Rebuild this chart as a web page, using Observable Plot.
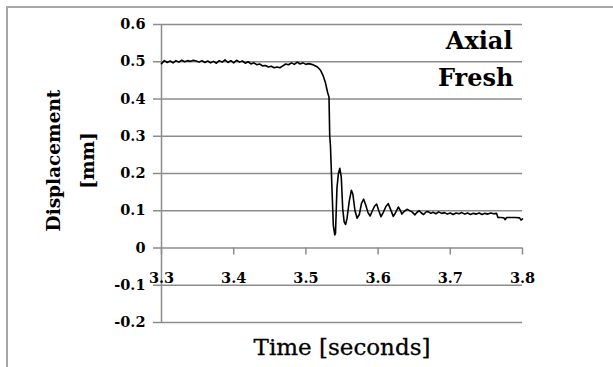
<!DOCTYPE html>
<html>
<head>
<meta charset="utf-8">
<script src="https://cdn.jsdelivr.net/npm/d3@7"></script>
<script src="https://cdn.jsdelivr.net/npm/@observablehq/plot@0.6"></script>
<style>
  html, body { margin: 0; padding: 0; background: white; }
  #wrap { position: relative; width: 613px; height: 367px; overflow: hidden; }
  #border { position: absolute; left: 6px; top: 6px; width: 620px; height: 380px;
            border-top: 2px solid #a6a6a6; border-left: 2px solid #a6a6a6; pointer-events: none; }
</style>
</head>
<body>
<div id="wrap"><div id="chart"></div><div id="border"></div></div>
<script>
// Time [seconds]
const times = [
  3.300, 3.304, 3.308, 3.312, 3.316, 3.320, 3.324, 3.328, 3.332, 3.336,
  3.340, 3.344, 3.348, 3.352, 3.356, 3.360, 3.364, 3.368, 3.372, 3.376,
  3.380, 3.384, 3.388, 3.392, 3.396, 3.400, 3.404, 3.408, 3.412, 3.416,
  3.420, 3.424, 3.428, 3.432, 3.436, 3.440, 3.444, 3.448, 3.452, 3.456,
  3.460, 3.464, 3.468, 3.472, 3.476, 3.480, 3.484, 3.488, 3.492, 3.496,
  3.500, 3.504, 3.508, 3.512, 3.516, 3.520, 3.524, 3.527, 3.530, 3.532,
  3.533, 3.534, 3.536, 3.538, 3.540, 3.541, 3.543, 3.545, 3.547, 3.549,
  3.551, 3.553, 3.555, 3.557, 3.560, 3.563, 3.565, 3.568, 3.571, 3.574,
  3.577, 3.580, 3.583, 3.586, 3.589, 3.592, 3.595, 3.598, 3.601, 3.604,
  3.607, 3.611, 3.614, 3.617, 3.621, 3.624, 3.628, 3.631, 3.633, 3.636,
  3.640, 3.643, 3.647, 3.651, 3.654, 3.657, 3.660, 3.663, 3.667, 3.670,
  3.673, 3.676, 3.680, 3.684, 3.688, 3.692, 3.696, 3.700, 3.704, 3.708,
  3.712, 3.716, 3.720, 3.724, 3.728, 3.732, 3.736, 3.740, 3.744, 3.748,
  3.752, 3.756, 3.760, 3.764, 3.766, 3.770, 3.774, 3.776, 3.778, 3.784,
  3.790, 3.796, 3.798, 3.800
];
// Displacement [mm]
const displacement = [
  0.495, 0.503, 0.498, 0.502, 0.497, 0.503, 0.499, 0.504, 0.500, 0.503,
  0.501, 0.504, 0.502, 0.499, 0.503, 0.498, 0.502, 0.497, 0.501, 0.496,
  0.503, 0.499, 0.505, 0.498, 0.503, 0.497, 0.504, 0.499, 0.502, 0.496,
  0.500, 0.494, 0.497, 0.492, 0.494, 0.489, 0.490, 0.486, 0.488, 0.484,
  0.486, 0.484, 0.489, 0.494, 0.492, 0.497, 0.493, 0.499, 0.494, 0.497,
  0.493, 0.495, 0.493, 0.490, 0.486, 0.478, 0.462, 0.444, 0.418, 0.405,
  0.300, 0.275, 0.165, 0.060, 0.035, 0.040, 0.160, 0.200, 0.214, 0.190,
  0.105, 0.070, 0.063, 0.080, 0.125, 0.155, 0.145, 0.100, 0.080, 0.090,
  0.120, 0.131, 0.115, 0.095, 0.086, 0.100, 0.112, 0.118, 0.100, 0.084,
  0.095, 0.112, 0.119, 0.105, 0.085, 0.094, 0.110, 0.100, 0.091, 0.098,
  0.104, 0.101, 0.097, 0.089, 0.096, 0.100, 0.094, 0.090, 0.098, 0.097,
  0.093, 0.096, 0.092, 0.097, 0.093, 0.095, 0.091, 0.094, 0.090, 0.094,
  0.092, 0.095, 0.091, 0.094, 0.090, 0.093, 0.091, 0.094, 0.090, 0.093,
  0.091, 0.094, 0.092, 0.093, 0.082, 0.082, 0.081, 0.076, 0.082, 0.082,
  0.082, 0.081, 0.075, 0.078
];
const xTicks = [3.3, 3.4, 3.5, 3.6, 3.7, 3.8];
const xTickLabels = ["3.3", "3.4", "3.5", "3.6", "3.7", "3.8"];
const yTicks = [-0.2, -0.1, 0, 0.1, 0.2, 0.3, 0.4, 0.5, 0.6];
const yTickLabels = ["-0.2", "-0.1", "0", "0.1", "0.2", "0.3", "0.4", "0.5", "0.6"];
const titleLines = ["Axial", "Fresh"];
const yLabelLines = ["Displacement", "[mm]"];
const xLabel = "Time [seconds]";

const data = times.map((t, i) => ({t, v: displacement[i]}));
const grid = "#8c8c8c";
const font = "DejaVu Serif";

const chart = Plot.plot({
  width: 613,
  height: 367,
  marginLeft: 161,
  marginRight: 91,
  marginTop: 24,
  marginBottom: 45,
  style: {fontFamily: font, background: "white", color: "black", overflow: "visible"},
  x: {domain: [3.3, 3.8], axis: null},
  y: {domain: [-0.2, 0.6], axis: null},
  marks: [
    Plot.gridY(yTicks, {stroke: grid, strokeOpacity: 1, strokeWidth: 1.5}),
    Plot.axisY(yTicks, {
      anchor: "left", tickSize: 8, tickPadding: 8, stroke: grid, strokeWidth: 1.5,
      fill: "black", fontWeight: "bold", fontSize: 14.5, label: null,
      tickFormat: d => yTickLabels[yTicks.indexOf(d)]
    }),
    Plot.ruleX([3.3], {stroke: grid, strokeWidth: 1.5}),
    Plot.ruleX(xTicks, {x: d => d, y1: 0, y2: -0.019, stroke: grid, strokeWidth: 1.5}),
    Plot.text(xTicks, {
      x: d => d, y: 0, dy: 30, text: (d, i) => xTickLabels[i],
      fontWeight: "bold", fontSize: 14.5, fill: "black"
    }),
    Plot.line(data, {x: "t", y: "v", stroke: "black", strokeWidth: 1.6}),
    Plot.text([titleLines[0]], {frameAnchor: "top-right", textAnchor: "end", lineAnchor: "middle",
      dx: -10, dy: 16.5, fontSize: 24, fontWeight: "bold", fill: "black"}),
    Plot.text([titleLines[1]], {frameAnchor: "top-right", textAnchor: "end", lineAnchor: "middle",
      dx: -9, dy: 54, fontSize: 24, fontWeight: "bold", fill: "black"}),
    Plot.text([yLabelLines[0]], {frameAnchor: "left", rotate: -90, textAnchor: "middle", lineAnchor: "middle",
      dx: -107, dy: -13, fontSize: 18.5, fontWeight: "bold", fill: "black"}),
    Plot.text([yLabelLines[1]], {frameAnchor: "left", rotate: -90, textAnchor: "middle", lineAnchor: "middle",
      dx: -73, dy: -13, fontSize: 18.5, fontWeight: "bold", fill: "black"}),
    Plot.text([xLabel], {frameAnchor: "bottom", textAnchor: "middle", lineAnchor: "middle",
      dy: 25, fontSize: 23, fill: "black", stroke: "black", strokeWidth: 0.3})
  ]
});
document.getElementById("chart").appendChild(chart);
</script>
</body>
</html>
